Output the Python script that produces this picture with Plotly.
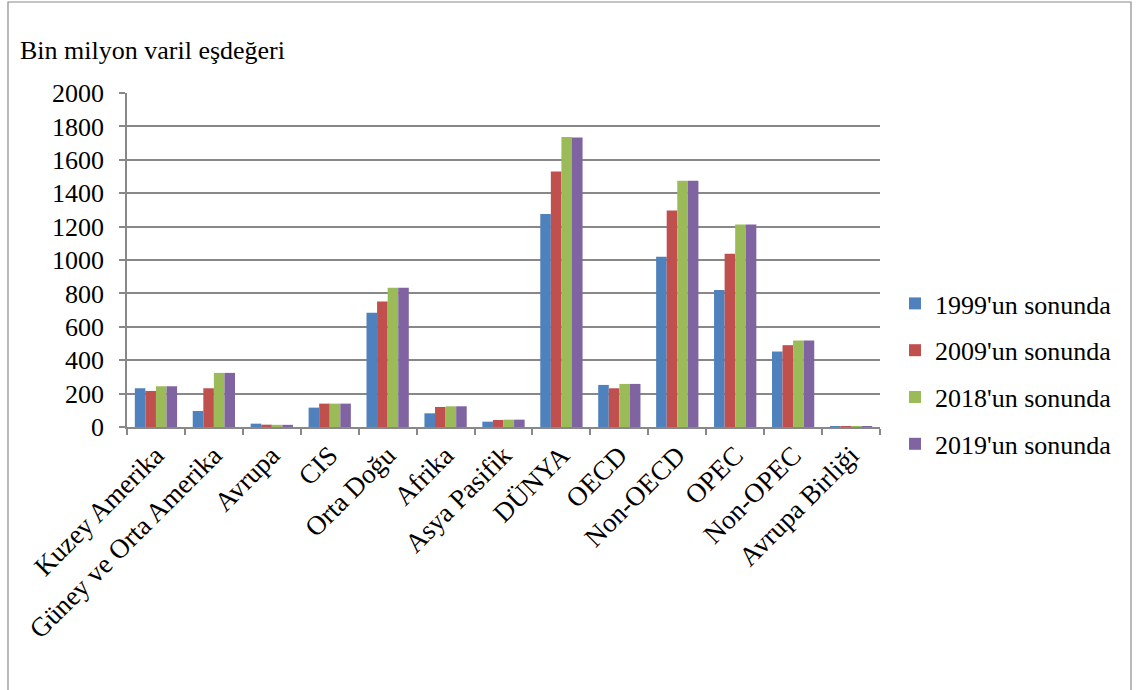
import plotly.graph_objects as go

categories = ["Kuzey Amerika", "Güney ve Orta Amerika", "Avrupa", "CIS", "Orta Doğu",
              "Afrika", "Asya Pasifik", "DÜNYA", "OECD", "Non-OECD", "OPEC",
              "Non-OPEC", "Avrupa Birliği"]
series_names = ["1999'un sonunda", "2009'un sonunda", "2018'un sonunda", "2019'un sonunda"]
v1999 = [232, 96, 20, 116, 684, 82, 32, 1276, 252, 1020, 820, 452, 6]
v2009 = [216, 232, 14, 140, 752, 120, 42, 1530, 232, 1296, 1038, 490, 4]
v2018 = [244, 324, 13, 140, 834, 124, 44, 1736, 258, 1474, 1212, 518, 2]
v2019 = [244, 324, 13, 140, 834, 124, 44, 1734, 258, 1474, 1212, 518, 2]
colors = ["#4F81BD", "#C0504D", "#9BBB59", "#8064A2"]
y_ticks = [0, 200, 400, 600, 800, 1000, 1200, 1400, 1600, 1800, 2000]

FONT = "Liberation Serif"

fig = go.Figure()
for i, (name, vals) in enumerate(zip(series_names, [v1999, v2009, v2018, v2019])):
    fig.add_trace(go.Bar(x=categories, y=vals, name=name, marker_color=colors[i],
                         marker_line_width=0, legendgroup=str(i)))

W, H = 1138, 690
L, R, T, B = 127, 880, 93, 427
pw, ph = R - L, B - T

def px(x):
    return (x - L) / pw

def py(y):
    return (B - y) / ph

fig.update_layout(
    width=W, height=H,
    margin=dict(l=L, r=W - R, t=T, b=H - B, pad=0),
    paper_bgcolor="white", plot_bgcolor="white",
    barmode="group", bargap=0.27, bargroupgap=0,
    font=dict(family=FONT, color="black", size=26),
    showlegend=True,
    legend=dict(x=px(895), y=py(374), xanchor="left", yanchor="middle",
                font=dict(family=FONT, size=26, color="black"),
                traceorder="grouped", tracegroupgap=10,
                bgcolor="rgba(0,0,0,0)", itemwidth=30),
    xaxis=dict(type="category", showline=True, linecolor="#888888", linewidth=1.5,
               ticks="outside", tickson="boundaries", ticklen=6, tickcolor="#888888",
               tickwidth=1.5, tickangle=-45, showgrid=False,
               tickfont=dict(family=FONT, size=27, color="black")),
    yaxis=dict(range=[0, 2000], tickvals=y_ticks, showline=True, linecolor="#888888",
               linewidth=1.5, ticks="outside", ticklen=6, tickcolor="#888888", tickwidth=1.5,
               showgrid=True, gridcolor="#888888", gridwidth=1.5, zeroline=False,
               tickfont=dict(family=FONT, size=26, color="black"), ticklabelstandoff=10),
    annotations=[dict(text="Bin milyon varil eşdeğeri", x=px(18), y=py(50), xref="paper",
                      yref="paper", xanchor="left", yanchor="middle", showarrow=False,
                      font=dict(family=FONT, size=26, color="black"))],
    shapes=[dict(type="rect", xref="paper", yref="paper", x0=px(8), x1=px(1131),
                 y0=py(720), y1=py(2), line=dict(color="#8a8a8a", width=1.2))],
)

fig.write_html("out.html")
